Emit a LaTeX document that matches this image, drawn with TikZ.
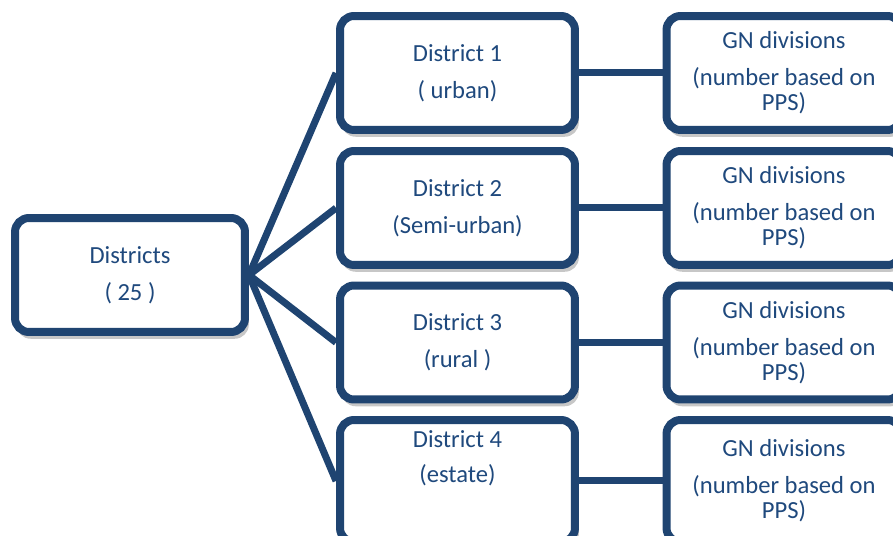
\documentclass[tikz,border=0pt]{standalone}
\usepackage{fontspec}
\setmainfont{Carlito}
\usetikzlibrary{shadows}
\definecolor{boxblue}{HTML}{1F4471}
\definecolor{textblue}{HTML}{1F497D}
\tikzset{
    distbox/.style={draw=boxblue, line width=0.16cm, rounded corners=0.28cm, fill=white,
        minimum width=4.7cm, minimum height=2.28cm, inner sep=0pt, align=center,
        general shadow={shadow xshift=1.5pt, shadow yshift=-3.5pt, shadow scale=1.01,
            fill=black, opacity=0.22}},
    link/.style={draw=boxblue, line width=0.14cm}
}
\begin{document}
\begin{tikzpicture}[x=0.02cm, y=-0.02cm, font=\fontsize{14}{14.2}\selectfont, text=textblue]
    \useasboundingbox (0,0) rectangle (893,536);
    \clip (0,0) rectangle (893,536);
    \node[distbox, minimum width=4.6cm] (all) at (130,275) {Districts\\[7pt]( 25 )};
    \node[distbox] (d1) at (457.5,73) {District 1\\[7pt]( urban)};
    \node[distbox] (d2) at (457.5,208) {District 2\\[7pt](Semi-urban)};
    \node[distbox] (d3) at (457.5,342.5) {District 3\\[7pt](rural )};
    \node[distbox, minimum height=2.44cm] (d4) at (457.5,481) {};
    \node[align=center] (d4text) at (457.5,458) {District 4\\[6pt](estate)};
    \foreach \i/\y/\h in {1/73/2.28,2/208/2.28,3/342.5/2.28,4/481/2.44}{
        \node[distbox, minimum height=\h cm] (gn\i) at (784,\y) {GN divisions\\[7pt](number based on\\PPS)};
        \draw[link] (all.east) -- (d\i.west);
        \draw[link] (d\i.east) -- (gn\i.west);
    }
\end{tikzpicture}
\end{document}
